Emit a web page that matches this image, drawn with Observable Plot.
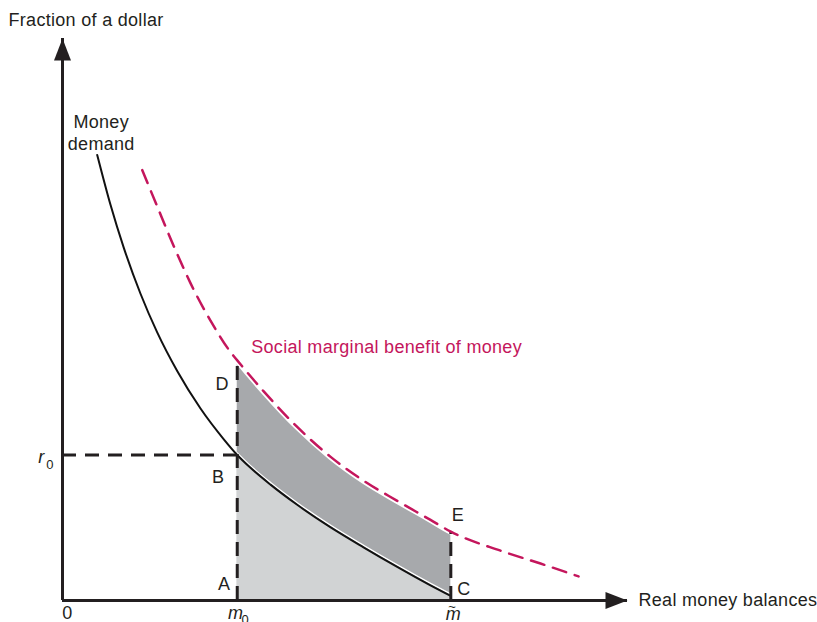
<!DOCTYPE html>
<html>
<head>
<meta charset="utf-8">
<script src="https://cdn.jsdelivr.net/npm/d3@7"></script>
<script src="https://cdn.jsdelivr.net/npm/@observablehq/plot@0.6"></script>
<style>
  html, body { margin: 0; padding: 0; background: #fff; }
</style>
</head>
<body>
<div id="chart"></div>
<script>
// ---- Data (arbitrary units) ----
const mdX  = [0.894, 1.236, 1.579, 2.009, 2.439, 2.954, 3.554, 4.154, 4.5, 4.842, 5.357, 6.044, 6.897, 7.752, 8.62, 9.477, 10];
const mdY  = [7.96, 7.07, 6.30, 5.48, 4.79, 4.10, 3.43, 2.88, 2.60, 2.37, 2.07, 1.71, 1.31, 0.95, 0.60, 0.27, 0.08];
const smbX = [2.053, 2.439, 2.866, 3.296, 3.811, 4.326, 4.5, 5.176, 6.044, 6.897, 7.752, 8.62, 9.477, 10, 11.28, 12.31, 13.29];
const smbY = [7.69, 7.04, 6.33, 5.67, 5.00, 4.44, 4.29, 3.74, 3.10, 2.57, 2.14, 1.78, 1.44, 1.23, 0.89, 0.66, 0.43];
const m0 = 4.5, mTilde = 10, r0 = 2.60;
const xMax = 14.55, yMax = 10.04;
const pointLabels = ["D", "B", "A", "E", "C"];
const axisTitles = ["Fraction of a dollar", "Real money balances"];
const curveLabels = ["Money\ndemand", "Social marginal benefit of money"];

// ---- Derived tables ----
const md = mdX.map((x, i) => ({x, y: mdY[i]}));
const smb = smbX.map((x, i) => ({x, y: smbY[i]}));
const inShade = d => d.x >= m0 && d.x <= mTilde;
const mdShade = md.filter(inShade);
const smbShade = smb.filter(inShade);
const smbAtM0 = smb.find(d => d.x === m0).y;
const smbAtMT = smb.find(d => d.x === mTilde).y;

const ink = "#231f20";
const magenta = "#c4165c";
const dark = "#a7a9ac";
const light = "#d1d3d4";
const font = "'Liberation Sans', Arial, Helvetica, sans-serif";
const curve = "monotone-x";

const arrowHead = {
  draw(ctx) {
    ctx.moveTo(0, 0);
    ctx.lineTo(8.5, 22);
    ctx.lineTo(-8.5, 22);
    ctx.closePath();
  }
};

const lab = (t, x, y, o = {}) =>
  Plot.text([t], {x: [x], y: [y], text: [t], fill: ink, fontSize: 18, ...o});

const chart = Plot.plot({
  width: 817,
  height: 622,
  marginLeft: 62,
  marginRight: 190,
  marginTop: 38,
  marginBottom: 22,
  x: {domain: [0, xMax], axis: null},
  y: {domain: [0, yMax], axis: null},
  style: {fontFamily: font, letterSpacing: "0.3px", background: "#fff", overflow: "visible"},
  marks: [
    // shaded regions
    Plot.areaY(smbShade, {x: "x", y1: 0, y2: "y", fill: dark, curve}),
    Plot.line(smb, {x: "x", y: "y", stroke: "#fff", strokeWidth: 6, curve}),
    Plot.areaY(mdShade, {x: "x", y1: 0, y2: "y", fill: light, curve}),
    Plot.line(mdShade, {x: "x", y: "y", stroke: "#fff", strokeWidth: 1.6, dy: -2, curve}),
    // money demand curve
    Plot.line(md, {x: "x", y: "y", stroke: "#111", strokeWidth: 2, curve}),
    // dashed guides
    Plot.ruleY([r0], {x1: 0, x2: m0, stroke: ink, strokeWidth: 3, strokeDasharray: "14,9"}),
    Plot.ruleX([m0], {y1: 0, y2: smbAtM0, stroke: ink, strokeWidth: 3, strokeDasharray: "14,8"}),
    Plot.ruleX([mTilde], {y1: 0, y2: smbAtMT, stroke: ink, strokeWidth: 3, strokeDasharray: "14,8"}),
    // social marginal benefit curve
    Plot.line(smb, {x: "x", y: "y", stroke: magenta, strokeWidth: 2.5, strokeDasharray: "14,9", curve}),
    // axes
    Plot.ruleX([0], {stroke: ink, strokeWidth: 3}),
    Plot.ruleY([0], {stroke: ink, strokeWidth: 3}),
    Plot.dot([0], {x: [0], y: [yMax], symbol: arrowHead, fill: ink, stroke: null}),
    Plot.dot([0], {x: [xMax], y: [0], symbol: arrowHead, fill: ink, stroke: null, rotate: 90}),
    // axis titles
    lab(axisTitles[0], 0, yMax, {dx: -54, dy: -18, textAnchor: "start"}),
    lab(axisTitles[1], xMax, 0, {dx: 11, dy: 0, textAnchor: "start"}),
    // curve labels
    lab(curveLabels[0], mdX[0], mdY[0], {dx: 4, dy: -23, lineHeight: 1.22}),
    lab(curveLabels[1], m0, smbAtM0, {dx: 14, dy: -13, textAnchor: "start", fill: magenta}),
    // point labels
    lab(pointLabels[0], m0, smbAtM0, {dx: -15, dy: 24}),
    lab(pointLabels[1], m0, r0, {dx: -19, dy: 22}),
    lab(pointLabels[2], m0, 0, {dx: -13, dy: -16}),
    lab(pointLabels[3], mTilde, smbAtMT, {dx: 7, dy: -16}),
    lab(pointLabels[4], mTilde, 0, {dx: 13, dy: -11}),
    // axis value labels
    lab("0", 0, 0, {dx: 5, dy: 13}),
    lab("r", 0, r0, {dx: -21, dy: 2, fontStyle: "italic"}),
    lab("0", 0, r0, {dx: -12.5, dy: 10, fontSize: 13}),
    lab("m", m0, 0, {dx: -1.5, dy: 13, fontStyle: "italic"}),
    lab("0", m0, 0, {dx: 8, dy: 19, fontSize: 13}),
    lab("m", mTilde, 0, {dx: 2.5, dy: 14, fontStyle: "italic"}),
    lab("~", mTilde, 0, {dx: 1.5, dy: 6.5, fontSize: 13})
  ]
});

document.getElementById("chart").appendChild(chart);
</script>
</body>
</html>
